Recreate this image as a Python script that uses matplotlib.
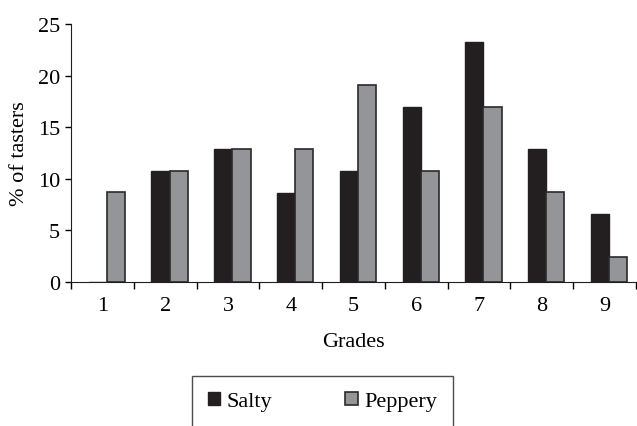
import numpy as np
import matplotlib.pyplot as plt

grades = ['1', '2', '3', '4', '5', '6', '7', '8', '9']
salty = [0, 10.8, 12.9, 8.6, 10.8, 17.0, 23.3, 12.9, 6.6]
peppery = [8.7, 10.8, 12.9, 12.9, 19.1, 10.8, 17.0, 8.7, 2.4]

plt.rcParams['font.family'] = ['Liberation Serif', 'DejaVu Serif']
fs = 16

fig = plt.figure(figsize=(6.37, 4.27), dpi=100)
ax = fig.add_axes([0.1115, 0.337, 0.887, 0.6045])

x = np.arange(len(grades))
w = 0.29
off = 0.07
ax.bar(x + off - w / 2, salty, w, color='#231f20', edgecolor='#231f20', linewidth=1, label='Salty')
ax.bar(x + off + w / 2, peppery, w, color='#939598', edgecolor='#2a2a2a', linewidth=1.2, label='Peppery')

ax.set_xlim(-0.5, len(grades) - 0.5)
ax.set_ylim(0, 25)
ax.set_yticks([0, 5, 10, 15, 20, 25])
ax.set_xticks(x)
ax.set_xticklabels(grades)
ax.set_xticks(np.arange(-0.5, len(grades)), minor=True)
ax.tick_params(axis='x', which='major', length=0, pad=10, labelsize=fs)
ax.tick_params(axis='x', which='minor', length=5, direction='out', width=1)
ax.tick_params(axis='y', length=4, direction='out', width=1, labelsize=fs, pad=4)

for s in ['top', 'right']:
    ax.spines[s].set_visible(False)
ax.spines['left'].set_color('#231f20')
ax.spines['bottom'].set_color('#231f20')

ax.set_xlabel('Grades', fontsize=fs, labelpad=12)
ax.set_ylabel('% of tasters', fontsize=fs, labelpad=6)

leg = fig.legend(loc='upper center', bbox_to_anchor=(0.506, 0.117), ncol=2,
                 fontsize=fs, frameon=True, fancybox=False, edgecolor='#231f20',
                 handlelength=0.55, handleheight=0.55, handletextpad=0.3,
                 columnspacing=3.3, borderpad=0.7, borderaxespad=0)
leg.get_frame().set_linewidth(1)

fig.savefig('out.png', dpi=100)
